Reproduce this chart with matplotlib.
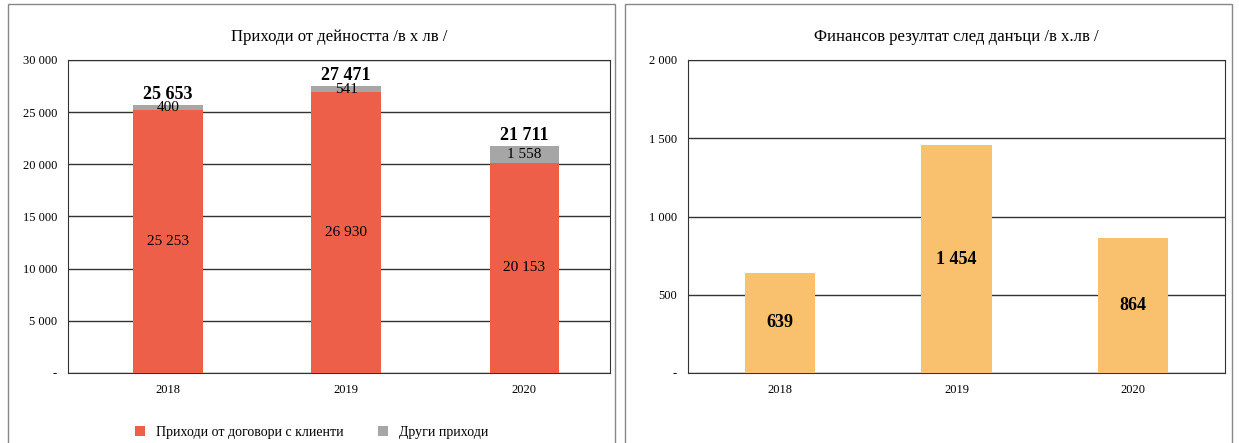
import matplotlib.pyplot as plt
from matplotlib.patches import Rectangle

# -----------------------------
# DATA
# -----------------------------

years = ["2018", "2019", "2020"]

contract_income = [25253, 26930, 20153]
other_income = [400, 541, 1558]
total_income = [25653, 27471, 21711]

net_result = [639, 1454, 864]

left_ticks = [0, 5000, 10000, 15000, 20000, 25000, 30000]
right_ticks = [0, 500, 1000, 1500, 2000]


def fmt(v):
    if v == 0:
        return "-"
    return f"{v:,}".replace(",", " ")


plt.rcParams["font.family"] = ["Liberation Serif", "DejaVu Serif"]

fig = plt.figure(figsize=(12.39, 4.43), dpi=100)

# panel borders
for x0, x1 in [(8, 615), (625, 1232)]:
    fig.add_artist(Rectangle((x0 / 1239, -0.05), (x1 - x0) / 1239, 1.04,
                             transform=fig.transFigure, fill=False,
                             edgecolor="#888888", linewidth=1.0))

# -----------------------------
# LEFT CHART
# -----------------------------

ax1 = fig.add_axes([68 / 1239, 70 / 443, 542 / 1239, 313 / 443])
x = range(len(years))
ax1.bar(x, contract_income, width=0.39, color="#EE5F4A",
        label="Приходи от договори с клиенти", zorder=3)
ax1.bar(x, other_income, width=0.39, bottom=contract_income, color="#A6A6A6",
        label="Други приходи", zorder=3)

for i in x:
    ax1.text(i, contract_income[i] / 2, fmt(contract_income[i]),
             ha="center", va="center", fontsize=11, zorder=4)
    ax1.text(i, contract_income[i] + other_income[i] / 2, fmt(other_income[i]),
             ha="center", va="center", fontsize=11, zorder=4)
    ax1.text(i, total_income[i] + 250, fmt(total_income[i]),
             ha="center", va="bottom", fontsize=13, fontweight="bold", zorder=4)

ax1.set_ylim(0, 30000)
ax1.set_xlim(-0.56, 2.48)
ax1.set_yticks(left_ticks)
ax1.set_yticklabels([fmt(t) for t in left_ticks], fontsize=9)
ax1.set_xticks(list(x))
ax1.set_xticklabels(years, fontsize=9)
ax1.tick_params(length=0, pad=8)
ax1.grid(axis="y", color="#333333", linewidth=1.0, zorder=0)
for s in ax1.spines.values():
    s.set_color("#333333")
ax1.set_title("Приходи от дейността /в х лв /", fontsize=12, pad=14)
ax1.legend(loc="upper center", bbox_to_anchor=(0.45, -0.13), ncol=2,
           frameon=False, fontsize=10, handlelength=0.7, handleheight=0.7,
           columnspacing=2.5)

# -----------------------------
# RIGHT CHART
# -----------------------------

ax2 = fig.add_axes([688 / 1239, 70 / 443, 537 / 1239, 313 / 443])
ax2.bar(x, net_result, width=0.4, color="#F9C16E", zorder=3)

for i in x:
    ax2.text(i, net_result[i] / 2, fmt(net_result[i]),
             ha="center", va="center", fontsize=13, fontweight="bold", zorder=4)

ax2.set_ylim(0, 2000)
ax2.set_xlim(-0.52, 2.52)
ax2.set_yticks(right_ticks)
ax2.set_yticklabels([fmt(t) for t in right_ticks], fontsize=9)
ax2.set_xticks(list(x))
ax2.set_xticklabels(years, fontsize=9)
ax2.tick_params(length=0, pad=8)
ax2.grid(axis="y", color="#333333", linewidth=1.0, zorder=0)
for s in ax2.spines.values():
    s.set_color("#333333")
ax2.set_title("Финансов резултат след данъци /в х.лв /", fontsize=12, pad=14)

fig.savefig("out.png", dpi=100)
